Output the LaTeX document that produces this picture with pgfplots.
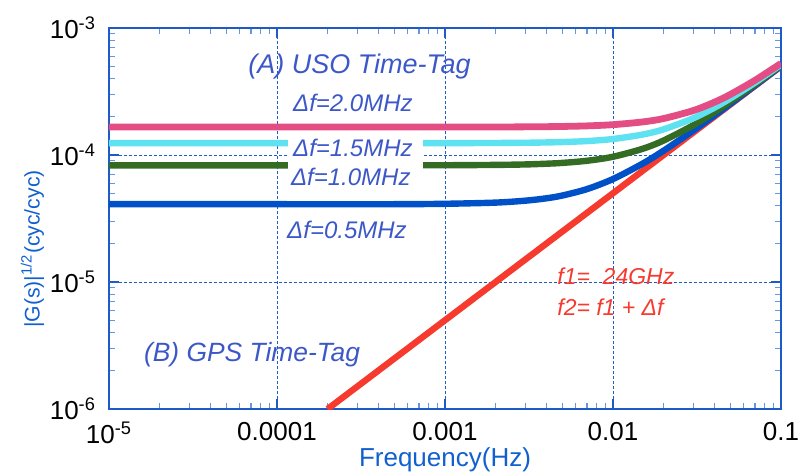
\documentclass[border=0pt]{standalone}
\usepackage{fontspec}
\setmainfont{Liberation Sans}
\usepackage{pgfplots}
\pgfplotsset{compat=1.18}
\definecolor{cpink}{RGB}{228,76,132}
\definecolor{ccyan}{RGB}{94,226,242}
\definecolor{cgreen}{RGB}{52,108,36}
\definecolor{cblue}{RGB}{0,80,200}
\definecolor{cred}{RGB}{246,58,46}
\definecolor{axblue}{RGB}{30,90,200}
\definecolor{minblue}{RGB}{100,150,225}
\definecolor{txtblue}{RGB}{60,88,200}
\definecolor{lblblue}{RGB}{16,96,208}
\begin{document}
\begin{tikzpicture}
\begin{axis}[
  scale only axis, width=336pt, height=190.5pt,
  xmode=log, ymode=log,
  xmin=1e-5, xmax=0.1, ymin=1e-6, ymax=1e-3,
  xtick={1e-5,1e-4,1e-3,1e-2,1e-1},
  xticklabels={10\textsuperscript{-5},0.0001,0.001,0.01,0.1},
  minor xtick={2e-5,3e-5,4e-5,5e-5,6e-5,7e-5,8e-5,9e-5,2e-4,3e-4,4e-4,5e-4,6e-4,7e-4,8e-4,9e-4,2e-3,3e-3,4e-3,5e-3,6e-3,7e-3,8e-3,9e-3,2e-2,3e-2,4e-2,5e-2,6e-2,7e-2,8e-2,9e-2},
  ytick={1e-6,1e-5,1e-4,1e-3},
  yticklabels={10\textsuperscript{-6},10\textsuperscript{-5},10\textsuperscript{-4},10\textsuperscript{-3}},
  minor ytick={2e-6,3e-6,4e-6,5e-6,6e-6,7e-6,8e-6,9e-6,2e-5,3e-5,4e-5,5e-5,6e-5,7e-5,8e-5,9e-5,2e-4,3e-4,4e-4,5e-4,6e-4,7e-4,8e-4,9e-4},
  tick label style={font=\fontsize{13}{15}\selectfont, black},
  xticklabel style={yshift=-3pt},
  yticklabel style={xshift=-3pt},
  axis line style={axblue, line width=0.8pt},
  major tick length=5pt, minor tick length=3pt,
  every major tick/.style={axblue, line width=0.6pt},
  every minor tick/.style={minblue, line width=0.6pt},
  grid=major,
  major grid style={axblue, line width=0.35pt, dash pattern=on 1.5pt off 1pt},
  xlabel={Frequency(Hz)},
  ylabel={|G(s)|\textsuperscript{1/2}(cyc/cyc)},
  xlabel style={font=\fontsize{13}{15}\selectfont, lblblue, yshift=5pt},
  ylabel style={font=\fontsize{10.6}{13}\selectfont, lblblue, at={(ticklabel cs:0.42)}, yshift=-4pt},
]
\addplot[cred, line width=3.2pt] coordinates {(2e-4,1e-6) (0.1,5e-4)};
\addplot[cblue, line width=3.2pt, smooth] coordinates {
(1e-5,4.1e-5) (1e-4,4.1e-5) (5e-4,4.1e-5) (1e-3,4.13e-5) (2e-3,4.22e-5) (3e-3,4.37e-5) (4e-3,4.56e-5) (5e-3,4.80e-5) (7e-3,5.39e-5) (1e-2,6.47e-5) (1.5e-2,8.55e-5) (2e-2,1.081e-4) (3e-2,1.555e-4) (4e-2,2.042e-4) (5e-2,2.533e-4) (7e-2,3.524e-4) (0.1,5.017e-4)};
\addplot[cgreen, line width=3.2pt, smooth] coordinates {
(1e-5,8.3e-5) (1e-4,8.3e-5) (5e-4,8.3e-5) (1e-3,8.31e-5) (2e-3,8.36e-5) (3e-3,8.43e-5) (4e-3,8.54e-5) (5e-3,8.67e-5) (7e-3,9.01e-5) (1e-2,9.69e-5) (1.5e-2,1.119e-4) (2e-2,1.30e-4) (3e-2,1.714e-4) (4e-2,2.165e-4) (5e-2,2.634e-4) (7e-2,3.597e-4) (0.1,5.068e-4)};
\addplot[ccyan, line width=3.2pt, smooth] coordinates {
(1e-5,1.24e-4) (1e-4,1.24e-4) (5e-4,1.24e-4) (1e-3,1.241e-4) (2e-3,1.244e-4) (3e-3,1.249e-4) (4e-3,1.256e-4) (5e-3,1.265e-4) (7e-3,1.288e-4) (1e-2,1.337e-4) (1.5e-2,1.449e-4) (2e-2,1.593e-4) (3e-2,1.946e-4) (4e-2,2.353e-4) (5e-2,2.791e-4) (7e-2,3.713e-4) (0.1,5.151e-4)};
\addplot[cpink, line width=3.4pt, smooth] coordinates {
(1e-5,1.66e-4) (1e-4,1.66e-4) (5e-4,1.66e-4) (1e-3,1.661e-4) (2e-3,1.663e-4) (3e-3,1.667e-4) (4e-3,1.672e-4) (5e-3,1.679e-4) (7e-3,1.696e-4) (1e-2,1.734e-4) (1.5e-2,1.822e-4) (2e-2,1.938e-4) (3e-2,2.237e-4) (4e-2,2.599e-4) (5e-2,3.001e-4) (7e-2,3.874e-4) (0.1,5.268e-4)};
\fill[white] (axis cs:1.16e-4,1.52e-4) rectangle (axis cs:7.4e-4,7.62e-5);
\node[txtblue, font=\fontsize{13.5}{15}\selectfont\itshape] at (axis cs:3.1e-4,5e-4) {(A) USO Time-Tag};
\node[txtblue, font=\fontsize{12}{14}\selectfont\itshape] at (axis cs:2.83e-4,2.56e-4) {Δf=2.0MHz};
\node[txtblue, font=\fontsize{12}{14}\selectfont\itshape] at (axis cs:2.83e-4,1.135e-4) {Δf=1.5MHz};
\node[txtblue, font=\fontsize{12}{14}\selectfont\itshape] at (axis cs:2.75e-4,6.71e-5) {Δf=1.0MHz};
\node[txtblue, font=\fontsize{12}{14}\selectfont\itshape] at (axis cs:2.61e-4,2.56e-5) {Δf=0.5MHz};
\node[txtblue, font=\fontsize{13.2}{15}\selectfont\itshape] at (axis cs:7.1e-5,2.66e-6) {(B) GPS Time-Tag};
\node[cred, anchor=west, inner sep=0pt, font=\fontsize{11.5}{13}\selectfont\itshape] at (axis cs:4.64e-3,1.11e-5) {f1=\ \ 24GHz};
\node[cred, anchor=west, inner sep=0pt, font=\fontsize{11.5}{13}\selectfont\itshape] at (axis cs:4.64e-3,6.35e-6) {f2= f1 + Δf};
\end{axis}
\pgfresetboundingbox
\path[use as bounding box] (-54.5pt,-32pt) rectangle (347pt,204.5pt);
\end{tikzpicture}
\end{document}
